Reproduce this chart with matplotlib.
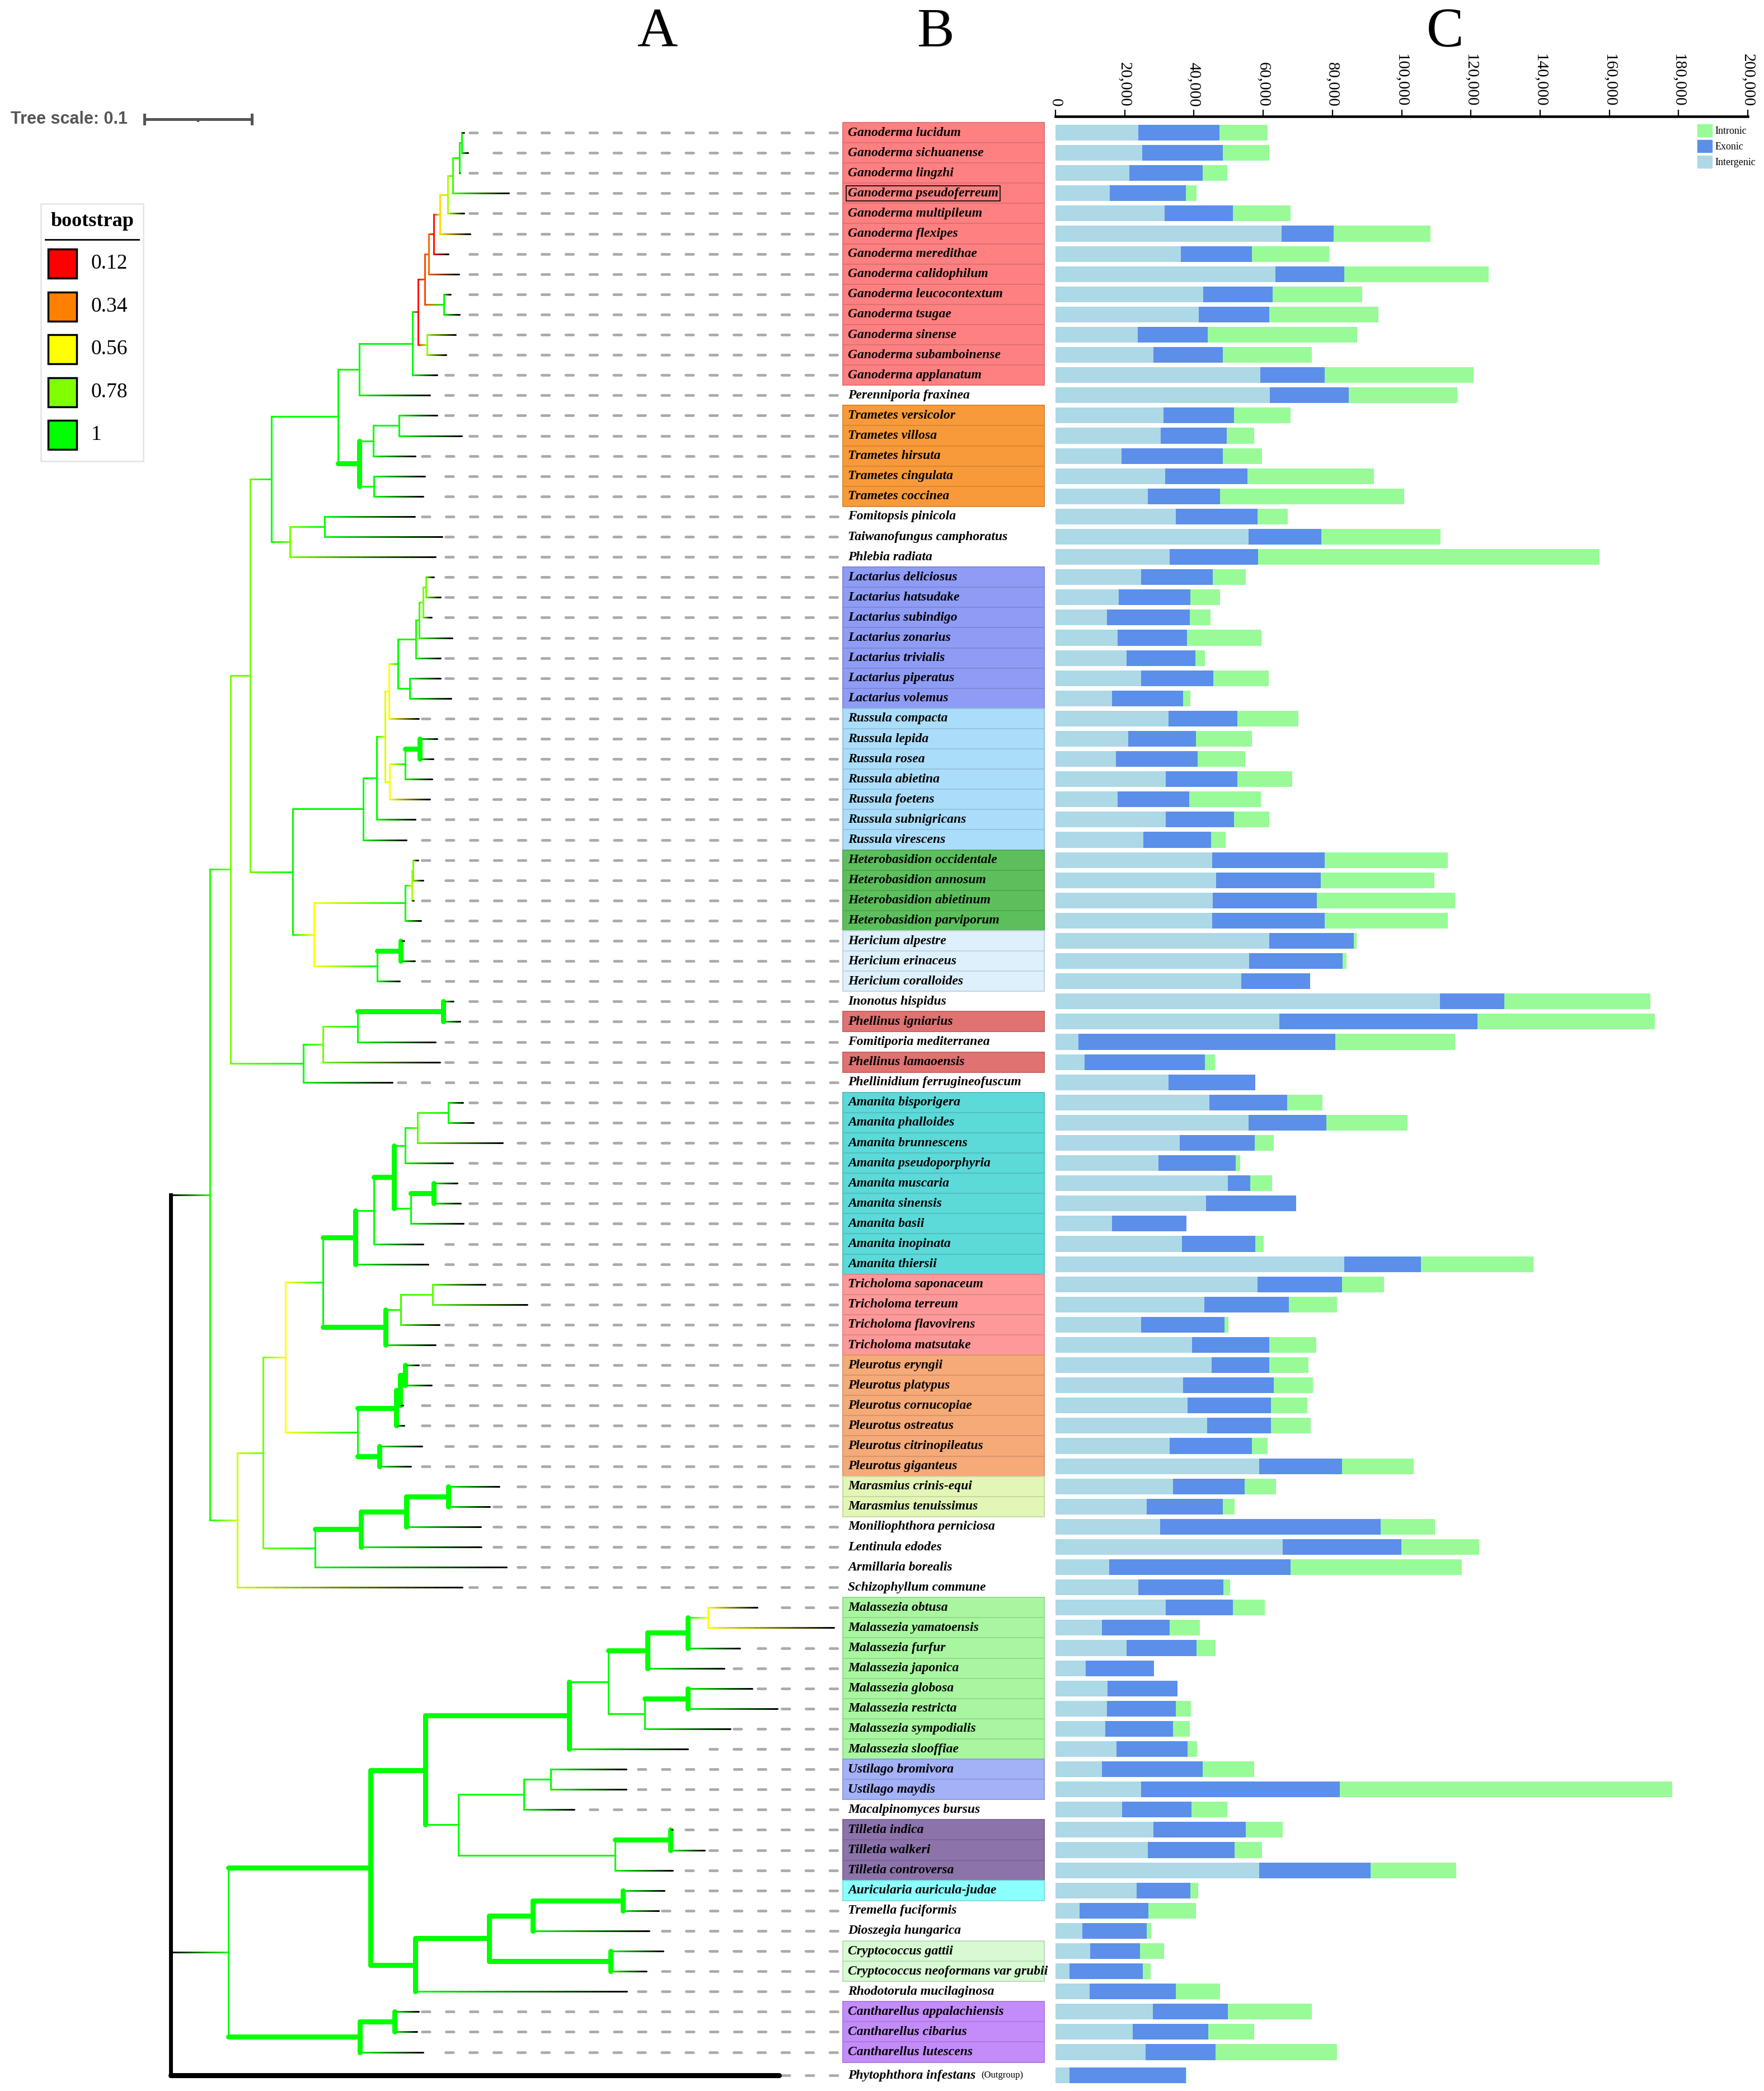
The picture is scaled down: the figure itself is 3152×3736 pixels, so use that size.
import matplotlib
matplotlib.use("Agg")
import numpy as np
import matplotlib.pyplot as plt
from matplotlib.collections import LineCollection
from matplotlib.colors import LinearSegmentedColormap, to_rgb
from matplotlib.patches import Patch, Rectangle
from matplotlib.ticker import FuncFormatter

plt.rcParams['font.family'] = 'Liberation Serif'
plt.rcParams['lines.scale_dashes'] = False

species = [
    "Ganoderma lucidum", "Ganoderma sichuanense", "Ganoderma lingzhi", "Ganoderma pseudoferreum",
    "Ganoderma multipileum", "Ganoderma flexipes", "Ganoderma meredithae", "Ganoderma calidophilum",
    "Ganoderma leucocontextum", "Ganoderma tsugae", "Ganoderma sinense", "Ganoderma subamboinense",
    "Ganoderma applanatum", "Perenniporia fraxinea", "Trametes versicolor", "Trametes villosa",
    "Trametes hirsuta", "Trametes cingulata", "Trametes coccinea", "Fomitopsis pinicola",
    "Taiwanofungus camphoratus", "Phlebia radiata", "Lactarius deliciosus", "Lactarius hatsudake",
    "Lactarius subindigo", "Lactarius zonarius", "Lactarius trivialis", "Lactarius piperatus",
    "Lactarius volemus", "Russula compacta", "Russula lepida", "Russula rosea", "Russula abietina",
    "Russula foetens", "Russula subnigricans", "Russula virescens", "Heterobasidion occidentale",
    "Heterobasidion annosum", "Heterobasidion abietinum", "Heterobasidion parviporum",
    "Hericium alpestre", "Hericium erinaceus", "Hericium coralloides", "Inonotus hispidus",
    "Phellinus igniarius", "Fomitiporia mediterranea", "Phellinus lamaoensis",
    "Phellinidium ferrugineofuscum", "Amanita bisporigera", "Amanita phalloides",
    "Amanita brunnescens", "Amanita pseudoporphyria", "Amanita muscaria", "Amanita sinensis",
    "Amanita basii", "Amanita inopinata", "Amanita thiersii", "Tricholoma saponaceum",
    "Tricholoma terreum", "Tricholoma flavovirens", "Tricholoma matsutake", "Pleurotus eryngii",
    "Pleurotus platypus", "Pleurotus cornucopiae", "Pleurotus ostreatus", "Pleurotus citrinopileatus",
    "Pleurotus giganteus", "Marasmius crinis-equi", "Marasmius tenuissimus",
    "Moniliophthora perniciosa", "Lentinula edodes", "Armillaria borealis", "Schizophyllum commune",
    "Malassezia obtusa", "Malassezia yamatoensis", "Malassezia furfur", "Malassezia japonica",
    "Malassezia globosa", "Malassezia restricta", "Malassezia sympodialis", "Malassezia slooffiae",
    "Ustilago bromivora", "Ustilago maydis", "Macalpinomyces bursus", "Tilletia indica",
    "Tilletia walkeri", "Tilletia controversa", "Auricularia auricula-judae", "Tremella fuciformis",
    "Dioszegia hungarica", "Cryptococcus gattii", "Cryptococcus neoformans var grubii",
    "Rhodotorula mucilaginosa", "Cantharellus appalachiensis", "Cantharellus cibarius",
    "Cantharellus lutescens", "Phytophthora infestans",
]

intergenic = [
    23900, 25000, 21300, 15700, 31500, 65300, 36200, 63500, 42700, 41400, 23800, 28300, 59200,
    62000, 31200, 30400, 19000, 31700, 26700, 34700, 55800, 33000, 24700, 18200, 14800, 18000,
    20600, 24800, 16400, 32600, 21000, 17500, 31800, 17900, 31900, 25400, 45200, 46400, 45500,
    45200, 61700, 56000, 53700, 111100, 64600, 6700, 8400, 32700, 44400, 55800, 35900, 29700,
    49800, 43500, 16300, 36500, 83400, 58400, 43000, 24700, 39400, 45100, 36900, 38100, 43800,
    33000, 58900, 34000, 26400, 30200, 65600, 15500, 23900, 31900, 13500, 20500, 8800, 15000,
    14800, 14400, 17600, 13400, 24800, 19200, 28300, 26700, 58900, 23500, 6900, 7800, 10100,
    4000, 9800, 28100, 22300, 26000, 4000,
]
exonic = [
    23400, 23300, 21200, 21900, 19700, 15000, 20500, 20000, 20000, 20300, 20100, 20100, 18600,
    22700, 20400, 19100, 29400, 23700, 20900, 23700, 21000, 25500, 20800, 20700, 24000, 20000,
    19800, 20800, 20500, 20000, 19600, 23500, 20800, 20800, 19700, 19600, 32600, 30200, 30000,
    32600, 24500, 27000, 19800, 18500, 57300, 74200, 34700, 25000, 22600, 22500, 21700, 22400,
    6400, 26100, 21600, 21200, 22100, 24400, 24400, 24100, 22300, 16600, 26200, 24200, 18500,
    23700, 23900, 20700, 21900, 63800, 34300, 52400, 24600, 19400, 19500, 20300, 19700, 20200,
    20000, 19500, 20500, 29100, 57300, 20100, 26600, 25100, 32200, 15400, 20000, 18500, 14300,
    21200, 25000, 21700, 21900, 20300, 33600,
]
intronic = [
    13900, 13500, 7200, 3200, 16700, 28000, 22400, 41700, 25900, 31600, 43200, 25700, 42900,
    31400, 16300, 7900, 11200, 36600, 53100, 8700, 34400, 98600, 9400, 8600, 6000, 21500,
    2700, 16000, 2000, 17500, 16100, 13800, 15800, 20600, 10100, 4100, 35500, 32800, 39900,
    35500, 800, 1100, 0, 42200, 51200, 34600, 2900, 0, 10200, 23400, 5400, 1200,
    6400, 0, 0, 2400, 32600, 12100, 13900, 1200, 13700, 11400, 11200, 10500, 11500,
    4500, 20600, 9000, 3400, 15600, 22500, 49400, 1900, 9200, 8700, 5400, 0, 0,
    4400, 4900, 2800, 14900, 96100, 10300, 10700, 7900, 24700, 2300, 13700, 1300, 6900,
    2300, 12700, 24300, 13200, 35000, 300,
]

genus_colors = {
    "Ganoderma": "#FF8080", "Trametes": "#F99A3A", "Lactarius": "#8F9CF5", "Russula": "#AADDFA",
    "Heterobasidion": "#5CBF5C", "Hericium": "#DDF0FC", "Phellinus": "#E07272",
    "Amanita": "#5CD9D9", "Tricholoma": "#FF9999", "Pleurotus": "#F5AA78",
    "Marasmius": "#E2F7B5", "Malassezia": "#A8F7A0", "Ustilago": "#A3B1F7",
    "Tilletia": "#8C73AA", "Auricularia": "#8CFFFF", "Cryptococcus": "#D7FAD2",
    "Cantharellus": "#C38CFA",
}

bootstrap_ticks = [0.12, 0.34, 0.56, 0.78, 1.0]
bootstrap_colors = ["#FF0000", "#FF8000", "#FFFF00", "#80FF00", "#00FF00"]
tree_scale = 0.1

# tree (newick pieces); tips are row numbers, internal labels are bootstrap, * = thick branch
ganoderma = ("(((((((((((1:0.0020,2:0.0060)1:0.0020,3:0.0008)1:0.0060,4:0.0518)0.9:0.0048,"
             "5:0.0151)0.7:0.0072,6:0.0279)0.5:0.0060,7:0.0136)0.15:0.0048,8:0.0283)0.3:0.0032,"
             "(9:0.0064,10:0.0147)1:0.0175)0.25:0.0064,(11:0.0267,12:0.0179)0.75:0.0080)0.15:0.0052,"
             "13:0.0227)1:0.0494,14:0.0654)1")
trametes = "(((15:0.0355,16:0.0586)1:0.0239,17:0.0391)1:0.0128,(18:0.0470,19:0.0454)1:0.0136)1*"
fomitopsis = "((20:0.0837,21:0.1092)1:0.0323,22:0.1351)0.8"
polyporales = "((" + ganoderma + ":0.0199," + trametes + ":0.0199)1:0.0622," + fomitopsis + ":0.0175)1"

lactarius = ("(((((23:0.0076,24:0.0136)0.8:0.0024,25:0.0076)0.8:0.0036,26:0.0307)0.9:0.0032,"
             "27:0.0231)0.95:0.0167,(28:0.0291,29:0.0387)1:0.0108)1")
russula = "(((31:0.0163,32:0.0124)1*:0.0136,33:0.0251)1:0.0147,34:0.0375)0.56"
russulales = ("((((" + lactarius + ":0.0084,30:0.0279)0.56:0.0036," + russula
              + ":0.0040)0.62:0.0076,35:0.0359)1:0.0128,36:0.0403)1")
heterobasidion = "(((37:0.0044,38:0.0092)0.8:0.0012,39:0.0016)0.7:0.0060,40:0.0143)1"
hericium = "((41:0.0032,42:0.0132)1*:0.0219,43:0.0211)1"
russulales_all = ("(" + russulales + ":0.0654,(" + heterobasidion + ":0.0853,"
                  + hericium + ":0.0590)0.56:0.0195)1")
hymenochaetales = "((((44:0.0092,45:0.0155)1*:0.0797,46:0.0721)1:0.0323,47:0.1088)0.8:0.0187,48:0.0833)1"

amanita = ("((((((49:0.0136,50:0.0235)1:0.0287,51:0.0793)0.85:0.0112,52:0.0442)1:0.0104,"
           "((53:0.0223,54:0.0251)1*:0.0211,55:0.0490)1:0.0155)1*:0.0187,56:0.0454)1:0.0175,"
           "57:0.0678)1*")
tricholoma = "(((58:0.0490,59:0.0885)0.85:0.0295,60:0.0359)0.9:0.0139,61:0.0462)1*"
pleurotus = ("((((62:0.0124,63:0.0247)1*:0.0048,64:0.0028)1*:0.0032,65:0.0072)1*:0.0359,"
             "(66:0.0399,67:0.0295)1*:0.0199)1")
marasmiaceae = "((((68:0.0474,69:0.0387)1*:0.0387,70:0.0690)1*:0.0422,71:0.1116)1*:0.0430,72:0.1782)1"
agaricales = ("((((" + amanita + ":0.0303," + tricholoma + ":0.0586)1:0.0347," + pleurotus
              + ":0.0674)0.56:0.0211," + marasmiaceae + ":0.0486)0.8:0.0239,73:0.2096)0.65")

agaricomycetes = ("(((" + polyporales + ":0.0199," + russulales_all + ":0.0399)0.8:0.0179,"
                  + hymenochaetales + ":0.0674)0.8:0.0195," + agaricales + ":0.0255)0.95")

malassezia = ("(((((74:0.0458,75:0.1168)0.56:0.0191,76:0.0486)1*:0.0371,77:0.0709)1*:0.0367,"
              "((78:0.0598,79:0.0837)1*:0.0399,80:0.0797)1:0.0339)1:0.0363,81:0.1100)1*")
ustilago = ("(((82:0.0705,83:0.0705)1:0.0247,84:0.0466)1:0.0610,"
            "((85:0.0020,86:0.0319)1*:0.0514,87:0.0534)1:0.1459)1")
tremello = "((((88:0.0387,89:0.0335)1*:0.0837,90:0.1084)1*:0.0407,(91:0.0490,92:0.0331)1*:0.1132)1*:0.0686,93:0.1969)1*"
cantharellus = "((94:0.0223,95:0.0207)1*:0.0323,96:0.0586)1*"
basal = ("(((" + malassezia + ":0.1339," + ustilago + ":0.0307)1*:0.0510," + tremello
         + ":0.0415)1*:0.1327," + cantharellus + ":0.1228)1")

tree_newick = "(" + agaricomycetes + ":0.0363," + basal + ":0.0534,97*:0.5660);"

# ---- layout helpers (pixel geometry of the 3152 x 3736 canvas) ----
W, H = 3152, 3736
ROW0, ROWH = 237, 36.1
ROOT_X, PX_PER_UNIT = 305, 1920.0


def row_of_px(y):
    return (y - ROW0) / ROWH


def unit_of_px(x):
    return (x - ROOT_X) / PX_PER_UNIT


rows = np.arange(len(species), dtype=float)
rows[-1] += 0.15

cmap = LinearSegmentedColormap.from_list(
    "bootstrap",
    [((v - bootstrap_ticks[0]) / (bootstrap_ticks[-1] - bootstrap_ticks[0]), c)
     for v, c in zip(bootstrap_ticks, bootstrap_colors)])


def support_color(v):
    t = (v - bootstrap_ticks[0]) / (bootstrap_ticks[-1] - bootstrap_ticks[0])
    return to_rgb(cmap(min(max(t, 0), 1)))


def parse_newick(s):
    pos = 0

    def read_node():
        nonlocal pos
        children = []
        if s[pos] == "(":
            pos += 1
            children.append(read_node())
            while s[pos] == ",":
                pos += 1
                children.append(read_node())
            pos += 1
        start = pos
        while s[pos] not in ":,);":
            pos += 1
        label = s[start:pos]
        length = 0.0
        if s[pos] == ":":
            pos += 1
            start = pos
            while s[pos] not in ",);":
                pos += 1
            length = float(s[start:pos])
        return {"children": children, "label": label.rstrip("*"),
                "thick": label.endswith("*"), "length": length}

    return read_node()


def layout(node, x0):
    node["x"] = x0 + node["length"]
    if node["children"]:
        for ch in node["children"]:
            layout(ch, node["x"])
        node["y"] = (node["children"][0]["y"] + node["children"][-1]["y"]) / 2
        node["color"] = support_color(float(node["label"])) if node["label"] else (0, 0, 0)
    else:
        node["y"] = rows[int(node["label"]) - 1]
        node["color"] = (0, 0, 0)


root = parse_newick(tree_newick)
layout(root, 0.0)

fig = plt.figure(figsize=(W / 100, H / 100), dpi=100)

ax = fig.add_axes([0, 0, 1, 1])
ax.set_xlim(unit_of_px(0), unit_of_px(W))
ax.set_ylim(row_of_px(H), row_of_px(0))
ax.axis("off")

LW, LW_THICK, LW_ROOT = 2.2, 6.5, 5.0


def draw_branch(x0, x1, y, c0, c1, lw):
    n = 24
    xs = np.linspace(x0, x1, n + 1)
    segs = [[(xs[i], y), (xs[i + 1], y)] for i in range(n)]
    ts = (np.arange(n) + 0.5) / n
    cols = [tuple(np.array(c0) * (1 - t) + np.array(c1) * t) for t in ts]
    ax.add_collection(LineCollection(segs, colors=cols, linewidths=lw, capstyle="round", zorder=3))


tips = []


def draw(node, parent=None):
    lw = LW_THICK if node["thick"] else LW
    if node["children"]:
        ys = [c["y"] for c in node["children"]]
        vlw = LW_ROOT if parent is None else lw
        ax.plot([node["x"], node["x"]], [min(ys), max(ys)], color=node["color"], lw=vlw,
                solid_capstyle="round" if node["thick"] else "projecting", zorder=3)
        for ch in node["children"]:
            draw(ch, node)
    else:
        tips.append(node)
    if parent is not None:
        draw_branch(parent["x"], node["x"], node["y"], parent["color"], node["color"], lw)


draw(root)

# dashed leader lines on a common grid
G0, PERIOD, DASH_LW_PX, DASH_END = 837.0, 42.9, 4.7, 1500.0
on_px = 18.4 - DASH_LW_PX
for tip in tips:
    tip_px = ROOT_X + tip["x"] * PX_PER_UNIT
    start = G0 + np.ceil((tip_px + 2 - G0) / PERIOD) * PERIOD
    if start + DASH_LW_PX >= DASH_END:
        continue
    ax.plot([unit_of_px(start + DASH_LW_PX / 2), unit_of_px(DASH_END)], [tip["y"], tip["y"]],
            color="#AAAAAA", lw=DASH_LW_PX * 0.72, dash_capstyle="round",
            linestyle=(0, (on_px * 0.72, (PERIOD - on_px) * 0.72)), zorder=2)

# label boxes and names
box_left, box_right = unit_of_px(1506), unit_of_px(1866)
for r, name in zip(rows, species):
    genus = name.split()[0]
    if genus in genus_colors:
        fc = to_rgb(genus_colors[genus])
        ec = tuple(np.array(fc) * 0.88)
        ax.barh(r, box_right - box_left, left=box_left, height=1.0, color=fc,
                edgecolor=ec, linewidth=1.4, zorder=1)

for r, name in zip(rows, species):
    kw = dict(fontsize=17, fontweight="bold", fontstyle="italic", va="center", ha="left", zorder=4)
    if name == "Ganoderma pseudoferreum":
        kw["bbox"] = dict(boxstyle="square,pad=0.12", fc="none", ec="black", lw=1.2)
    t = ax.text(unit_of_px(1515), r, name, **kw)
    if name == "Phytophthora infestans":
        ax.annotate("(Outgroup)", xy=(1, 0.5), xycoords=t, xytext=(7, 0),
                    textcoords="offset points", fontsize=12, va="center", ha="left")

# tree scale bar
sy = row_of_px(213)
sx0 = unit_of_px(258)
tick_h = 8 / ROWH
ax.plot([sx0, sx0 + tree_scale], [sy, sy], color="#555555", lw=3.6, solid_capstyle="butt")
for xx in (sx0, sx0 + tree_scale):
    ax.plot([xx, xx], [sy - tick_h, sy + tick_h], color="#555555", lw=3.6)
ax.plot([sx0 + tree_scale / 2] * 2, [sy, sy + 3 / ROWH], color="#555555", lw=3)
ax.text(unit_of_px(19), sy, "Tree scale: %g" % tree_scale, fontsize=22, fontweight="bold",
        family="Liberation Sans", color="#555555", va="center", ha="left")

# bootstrap legend (pixel overlay)
axp = fig.add_axes([0, 0, 1, 1], facecolor="none")
axp.set_xlim(0, W)
axp.set_ylim(H, 0)
axp.axis("off")
axp.add_patch(Rectangle((73, 364), 183, 460, fc="white", ec="#E6E6E6", lw=2))
axp.text(165, 395, "bootstrap", fontsize=26, fontweight="bold", ha="center", va="center")
axp.plot([81, 248], [428, 428], color="black", lw=2)
for i, (v, c) in enumerate(zip(bootstrap_ticks, bootstrap_colors)):
    yc = 471 + 76.5 * i
    axp.add_patch(Rectangle((86, yc - 26), 51, 52, fc=c, ec="black", lw=2.5))
    axp.text(163, yc, "%g" % v, fontsize=27, va="center", ha="left")

for letter, x in (("A", 1175), ("B", 1671), ("C", 2582)):
    axp.text(x, 58, letter, fontsize=72, ha="center", va="center")

# stacked bars
axb = fig.add_axes([1886 / W, 0, (3123 - 1886) / W, (H - 208) / H])
axb.set_xlim(0, 200000)
axb.set_ylim(row_of_px(H), row_of_px(208))
c_inter, c_exo, c_intro = "#ADD8E6", "#5B8FEA", "#98FB98"
axb.barh(rows, intergenic, height=0.78, color=c_inter)
axb.barh(rows, exonic, left=intergenic, height=0.78, color=c_exo)
axb.barh(rows, intronic, left=np.add(intergenic, exonic), height=0.78, color=c_intro)
axb.xaxis.tick_top()
for s in ("bottom", "left", "right"):
    axb.spines[s].set_visible(False)
axb.spines["top"].set_linewidth(3.3)
axb.set_yticks([])
axb.set_xticks(np.arange(0, 200001, 20000))
axb.xaxis.set_major_formatter(FuncFormatter(lambda v, p: "{:,}".format(int(v))))
axb.tick_params(axis="x", direction="out", length=8.6, width=1.6, labelsize=21, pad=4,
                labelrotation=-90)

handles = [Patch(color=c_intro, label="Intronic"), Patch(color=c_exo, label="Exonic"),
           Patch(color=c_inter, label="Intergenic")]
fig.legend(handles=handles, loc="upper left", bbox_to_anchor=(3033 / W, 1 - 222 / H),
           frameon=False, fontsize=13, handlelength=1.45, handleheight=1.5,
           handletextpad=0.3, labelspacing=0.33, borderpad=0, borderaxespad=0)

fig.savefig("out.png", dpi=100)
